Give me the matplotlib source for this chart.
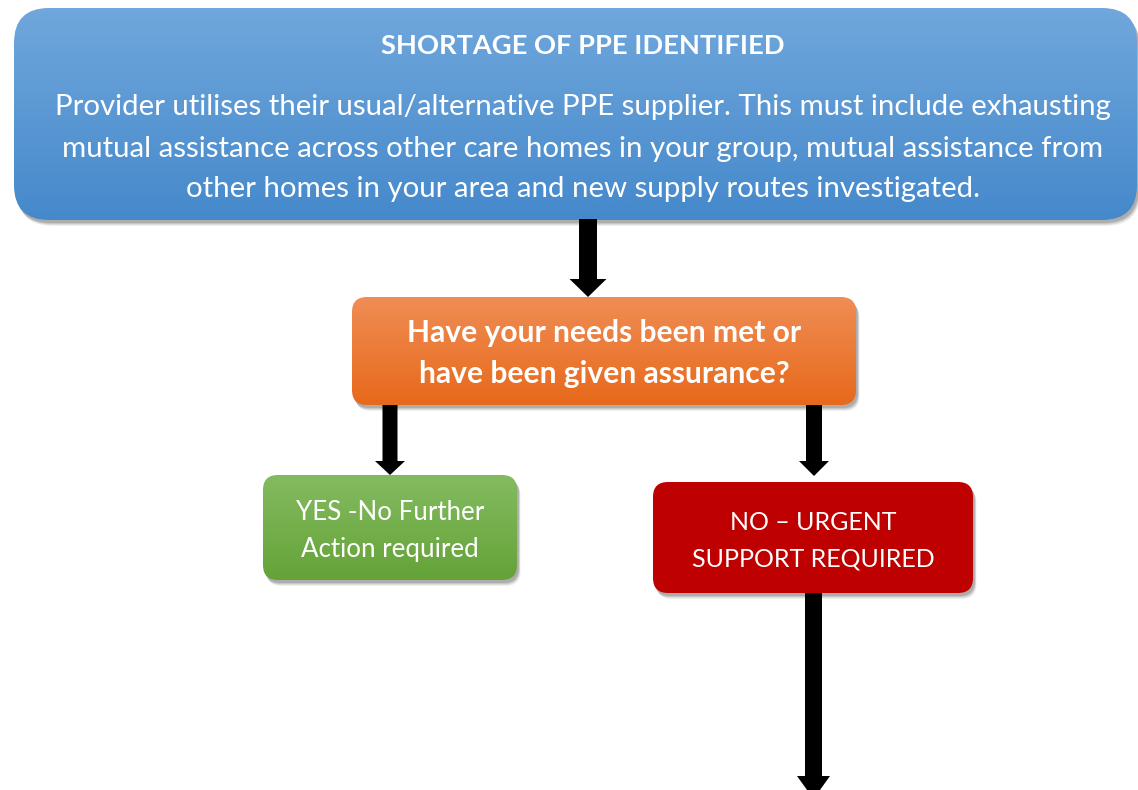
import numpy as np
import matplotlib
matplotlib.use("Agg")
from matplotlib import pyplot as plt
from matplotlib.patches import FancyBboxPatch, FancyArrow
from matplotlib.colors import to_rgb

plt.rcParams['font.family'] = ['Lato', 'DejaVu Sans']

# box texts
TITLE = "SHORTAGE OF PPE IDENTIFIED"
SUPPLIER_LINES = [
    "Provider utilises their usual/alternative PPE supplier. This must include exhausting",
    "mutual assistance across other care homes in your group, mutual assistance from",
    "other homes in your area and new supply routes investigated.",
]
QUESTION_LINES = ["Have your needs been met or", "have been given assurance?"]
YES_LINES = ["YES -No Further", "Action required"]
NO_LINES = ["NO \u2013 URGENT", "SUPPORT REQUIRED"]

W, H = 1138, 790


def gradient_box(ax, x0, y0, x1, y1, top, bottom, radius):
    # drop shadow: a few soft offset layers
    for i, a in enumerate([0.06, 0.08, 0.10, 0.12]):
        off = 6 - i
        sh = FancyBboxPatch((x0 + off * 0.6, y0 + off), x1 - x0, y1 - y0,
                            boxstyle=f"round,pad=0,rounding_size={radius}",
                            fc='black', ec='none', alpha=a, zorder=1)
        ax.add_patch(sh)
    box = FancyBboxPatch((x0, y0), x1 - x0, y1 - y0,
                         boxstyle=f"round,pad=0,rounding_size={radius}",
                         fc='none', ec='none', zorder=2)
    ax.add_patch(box)
    t = np.linspace(0, 1, 256)[:, None, None]
    grad = (1 - t) * np.array(to_rgb(top)) + t * np.array(to_rgb(bottom))
    im = ax.imshow(grad, extent=(x0, x1, y1, y0), origin='upper',
                   aspect='auto', zorder=2, interpolation='bilinear')
    im.set_clip_path(box)


def arrow(ax, x, y0, y1, width, head_width, head_length):
    ax.add_patch(FancyArrow(x, y0, 0, y1 - y0, width=width,
                            head_width=head_width, head_length=head_length,
                            length_includes_head=True, fc='black', ec='none',
                            zorder=3))


def lines(ax, x, ys, texts, size, weight='normal'):
    for y, s in zip(ys, texts):
        ax.text(x, y + 2, s, ha='center', va='center', color='white',
                fontsize=size, fontweight=weight, zorder=4)


fig = plt.figure(figsize=(W / 100, H / 100), dpi=100)
ax = fig.add_axes([0, 0, 1, 1])
ax.set_xlim(0, W)
ax.set_ylim(H, 0)
ax.axis('off')

# top box
gradient_box(ax, 14, 8, 1137, 220, '#70a7dc', '#4589cb', 35)
lines(ax, 583, [44], [TITLE], 19.6, 'bold')
lines(ax, 583, [105, 147, 187], SUPPLIER_LINES, 21.2)

# question box
gradient_box(ax, 352, 297, 856, 405, '#f08d55', '#e7691a', 15)
lines(ax, 604, [331, 372], QUESTION_LINES, 21.6, 'bold')

# yes / no boxes
gradient_box(ax, 263, 475, 517, 580, '#84bb60', '#64a338', 15)
lines(ax, 390, [510, 547], YES_LINES, 18.6)
gradient_box(ax, 653, 482, 973, 593, '#c00000', '#be0000', 15)
lines(ax, 813, [520, 557], NO_LINES, 18)

# arrows
arrow(ax, 588, 219, 297, 18, 37, 18)
arrow(ax, 390, 405, 475, 15, 30, 14)
arrow(ax, 814, 405, 476, 16, 30, 15)
arrow(ax, 813.5, 593, 799, 17, 33, 23)

fig.savefig("out.png", dpi=100)
